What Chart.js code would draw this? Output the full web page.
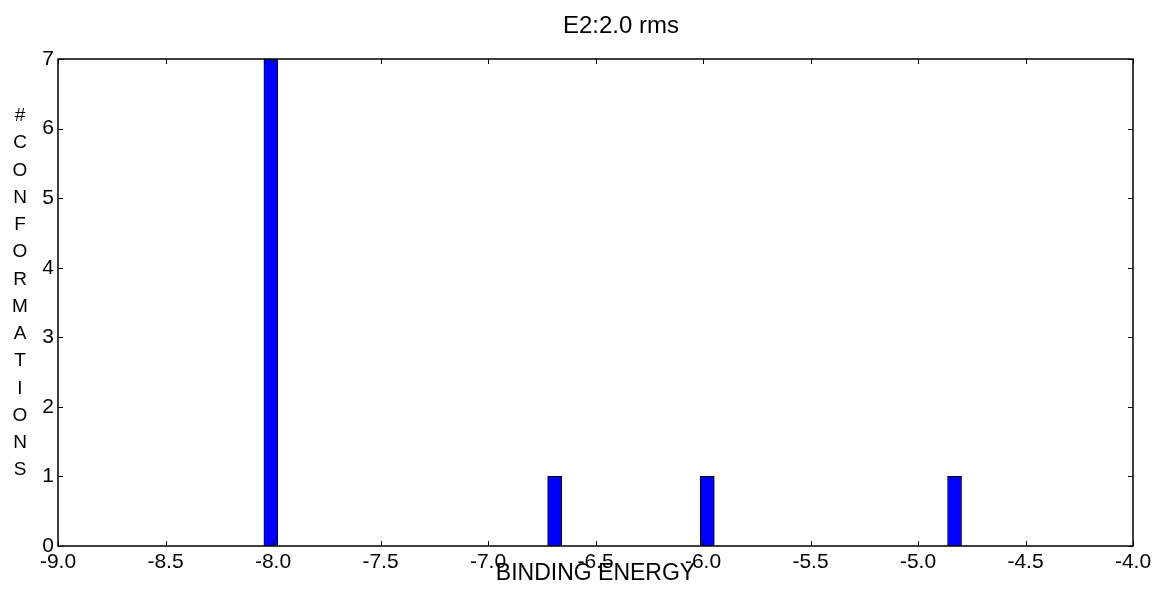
<!DOCTYPE html>
<html><head><meta charset="utf-8">
<script src="https://cdn.jsdelivr.net/npm/chart.js@4.4.1/dist/chart.umd.min.js"></script>
<style>html,body{margin:0;padding:0;background:#fff;overflow:hidden}#wrap{width:1158px;height:593px;position:relative}</style>
</head><body><div id="wrap"><canvas id="c" width="1158" height="593"></canvas></div>
<script>
const chartTitle = 'E2:2.0 rms';
const xAxisLabel = 'BINDING ENERGY';
const yAxisLabel = '#CONFORMATIONS';
const binCenters = [-8.01, -6.69, -5.98, -4.83];
const counts = [7, 1, 1, 1];
const xTicks = [-9.0, -8.5, -8.0, -7.5, -7.0, -6.5, -6.0, -5.5, -5.0, -4.5, -4.0];
const yTicks = [0, 1, 2, 3, 4, 5, 6, 7];

const FONT = '"Liberation Sans", Arial, Helvetica, sans-serif';

const framePlugin = {
  id: 'frame',
  afterDatasetsDraw(chart) {
    const {ctx, chartArea: {left, right, top, bottom}, scales: {x, y}} = chart;
    ctx.save();
    ctx.strokeStyle = '#000';
    ctx.lineWidth = 1;
    const tl = 5;
    ctx.beginPath();
    x.ticks.forEach(t => {
      const px = Math.round(x.getPixelForValue(t.value)) + 0.5;
      ctx.moveTo(px, bottom); ctx.lineTo(px, bottom - tl);
      ctx.moveTo(px, top); ctx.lineTo(px, top + tl);
    });
    y.ticks.forEach(t => {
      const py = Math.round(y.getPixelForValue(t.value)) + 0.5;
      ctx.moveTo(left, py); ctx.lineTo(left + tl, py);
      ctx.moveTo(right, py); ctx.lineTo(right - tl, py);
    });
    ctx.stroke();
    ctx.lineWidth = 1.5;
    ctx.strokeRect(left, top, right - left, bottom - top);
    ctx.restore();
  },
  afterDraw(chart) {
    const {ctx} = chart;
    ctx.save();
    ctx.fillStyle = '#000';
    ctx.textAlign = 'center';
    ctx.textBaseline = 'alphabetic';
    ctx.font = '24px ' + FONT;
    ctx.fillText(chartTitle, 621, 33);
    ctx.font = '19px ' + FONT;
    const letters = Array.from(yAxisLabel);
    letters.forEach((ch, i) => {
      ctx.fillText(ch, 20, 121 + i * 27.25);
    });
    ctx.restore();
  }
};

new Chart(document.getElementById('c'), {
  type: 'bar',
  data: {
    datasets: [{
      data: binCenters.map((v, i) => ({x: v, y: counts[i]})),
      backgroundColor: '#0000FF',
      borderColor: '#000000',
      borderWidth: 1,
      barThickness: 14
    }]
  },
  options: {
    responsive: false,
    animation: false,
    devicePixelRatio: 1,
    layout: {padding: {left: 0, right: 25, top: 59, bottom: 0}},
    plugins: {legend: {display: false}, tooltip: {enabled: false}, title: {display: false}},
    scales: {
      x: {
        type: 'linear',
        offset: false,
        min: -9, max: -4,
        afterBuildTicks: s => { s.ticks = xTicks.map(v => ({value: v})); },
        afterFit: s => { s.height = 47; },
        grid: {display: false, drawTicks: false, offset: false},
        border: {display: false},
        ticks: {color: '#000', font: {family: FONT, size: 21}, padding: 4, maxRotation: 0, autoSkip: false,
                callback: v => Number(v).toFixed(1)},
        title: {display: true, text: xAxisLabel, color: '#000', font: {family: FONT, size: 23}, padding: {top: 0, bottom: 6}}
      },
      y: {
        min: 0, max: 7,
        afterBuildTicks: s => { s.ticks = yTicks.map(v => ({value: v})); },
        afterFit: s => { s.width = 58; },
        grid: {display: false, drawTicks: false},
        border: {display: false},
        ticks: {color: '#000', font: {family: FONT, size: 21}, padding: 4, callback: v => String(v)}
      }
    }
  },
  plugins: [framePlugin]
});
</script></body></html>
